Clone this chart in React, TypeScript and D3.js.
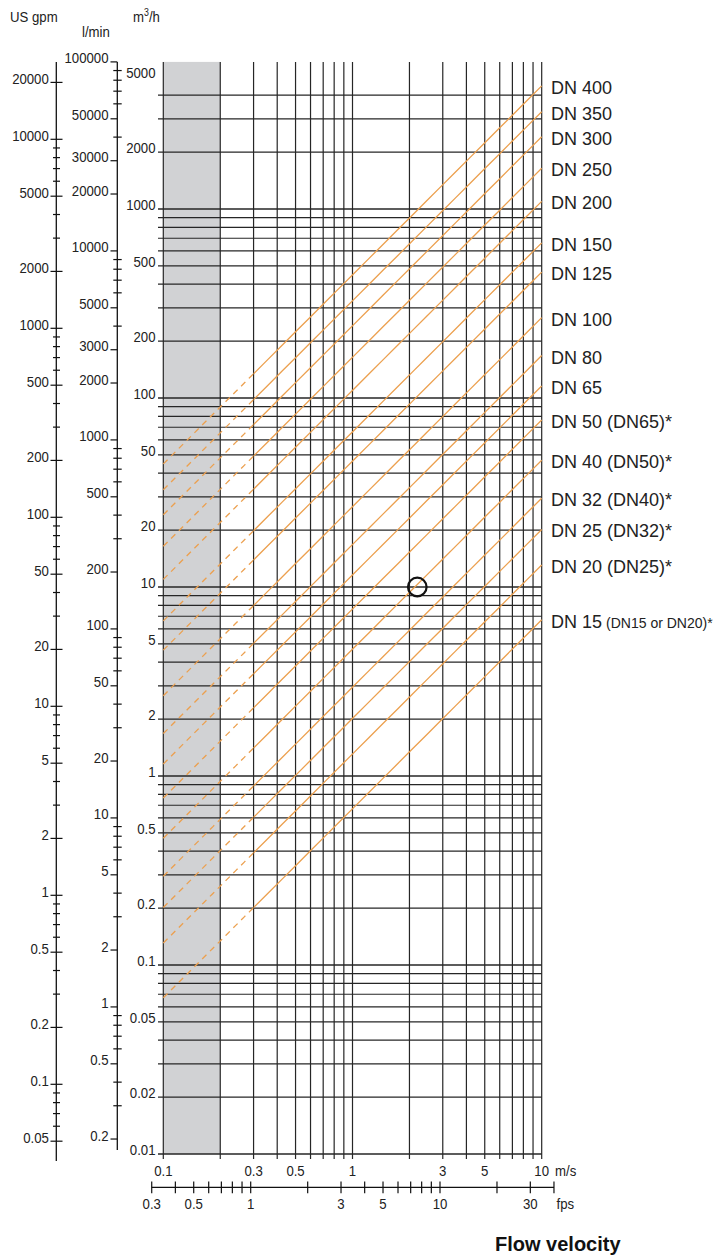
import React from 'react';
import * as d3 from 'd3';

const W = 714;
const H = 1256;

// ---- data ----
const dnNames = ["DN 400", "DN 350", "DN 300", "DN 250", "DN 200", "DN 150", "DN 125", "DN 100", "DN 80", "DN 65", "DN 50", "DN 40", "DN 32", "DN 25", "DN 20", "DN 15"];
const dnNotes = ["", "", "", "", "", "", "", "", "", "", "(DN65)*", "(DN50)*", "(DN40)*", "(DN32)*", "(DN25)*", "(DN15 or DN20)*"];
// effective inner diameters (mm) estimated from where each line meets the 10 m/s edge
const innerDiameterMm = [398, 340, 292, 241, 197, 153, 128, 97, 77, 64, 52, 40.7, 32.3, 26.7, 21.5, 15.4];

const m3hLabels = [5000, 2000, 1000, 500, 200, 100, 50, 20, 10, 5, 2, 1, 0.5, 0.2, 0.1, 0.05, 0.02, 0.01];
const lminLabels = [100000, 50000, 30000, 20000, 10000, 5000, 3000, 2000, 1000, 500, 200, 100, 50, 20, 10, 5, 2, 1, 0.5, 0.2];
const gpmLabels = [20000, 10000, 5000, 2000, 1000, 500, 200, 100, 50, 20, 10, 5, 2, 1, 0.5, 0.2, 0.1, 0.05];
const msLabels = [0.1, 0.3, 0.5, 1, 3, 5, 10];
const fpsLabels = [0.3, 0.5, 1, 3, 5, 10, 30];

const velocityDomain = [0.1, 10];
const flowDomain = [0.01, 6000];
const fpsDomain = [0.3, 40];
const gpmTickRange = [0.05, 20000];
const lminDomain = [0.2, 100000];
const topGridLine = 4000;
const dashedBelow = 0.3;
const slowZone = [0.1, 0.2];
const marker = { v: 2.2, q: 10 };

// ---- scales ----
const xV = d3.scaleLog().domain(velocityDomain).range([163.3, 541.7]);
const yQ = d3.scaleLog().domain(flowDomain).range([1154, 61.9]);
const yL = d3.scaleLog().domain([flowDomain[0] * 1000 / 60, flowDomain[1] * 1000 / 60]).range([1154, 61.9]);
const yG = d3.scaleLog().domain([1, 10]).range([895.3, 706.3]);
const xF = d3.scaleLog().domain([1, 10]).range([250.7, 440]);

const FONT = "'Liberation Sans', Arial, Helvetica, sans-serif";
const ORANGE = "#eca04f";
const GRID = "#262626";

// 1..9 x 10^n ticks inside [lo, hi]
function logTicks(lo: number, hi: number): number[] {
  const out: number[] = [];
  const e0 = Math.floor(Math.log10(lo)) - 1;
  const e1 = Math.ceil(Math.log10(hi)) + 1;
  for (let e = e0; e <= e1; e++) {
    for (let k = 1; k <= 9; k++) {
      const v = +(k * Math.pow(10, e)).toPrecision(8);
      if (v >= lo * (1 - 1e-9) && v <= hi * (1 + 1e-9)) out.push(v);
    }
  }
  return out;
}

const Lbl = ({ x, y, t, anchor = 'end', size = 15 }: any) => (
  <text transform={`translate(${x},${y}) scale(0.88,1)`} textAnchor={anchor} fontSize={size} fill="#222">{t}</text>
);

const flowAt = (v: number, dmm: number) => v * Math.PI / 4 * Math.pow(dmm / 1000, 2) * 3600;

export default function App() {
  const vTicks = logTicks(velocityDomain[0], velocityDomain[1]);
  const qTicks = logTicks(flowDomain[0], topGridLine);
  const lTicks = logTicks(lminDomain[0], lminDomain[1]);
  const gTicks = logTicks(gpmTickRange[0], gpmTickRange[1]);
  const fTicks = logTicks(fpsDomain[0], fpsDomain[1]);

  const near = (a: number, list: number[]) => list.some((b) => Math.abs(a - b) / b < 1e-6);

  const dnLines = innerDiameterMm.map((d, i) => {
    const per = flowAt(1, d);
    const vEnd = Math.min(velocityDomain[1], flowDomain[1] / per);
    const pts = (a: number, b: number) => {
      const n = 20;
      return d3.range(n + 1).map((k) => a * Math.pow(b / a, k / n));
    };
    const gen = d3.line<number>().x((v) => xV(v)).y((v) => yQ(v * per));
    return {
      dashed: gen(pts(velocityDomain[0], dashedBelow)) || '',
      solid: gen(pts(dashedBelow, vEnd)) || '',
      endY: yQ(vEnd * per),
      name: dnNames[i],
      note: dnNotes[i],
    };
  });

  return (
    <svg width={W} height={H} style={{ position: 'absolute', left: 0, top: 0, background: '#fff' }} fontFamily={FONT}>
      {/* slow zone */}
      <rect x={xV(slowZone[0])} y={yQ(flowDomain[1])} width={xV(slowZone[1]) - xV(slowZone[0])} height={yQ(flowDomain[0]) - yQ(flowDomain[1])} fill="#d1d2d4" />

      {/* vertical grid */}
      {vTicks.map((v, i) => (
        <line key={'v' + i} x1={xV(v)} x2={xV(v)} y1={yQ(flowDomain[1])} y2={1159} stroke={GRID} strokeWidth={1.2} />
      ))}
      {/* horizontal grid */}
      {qTicks.map((q, i) => (
        <line key={'h' + i} x1={158} x2={xV(velocityDomain[1])} y1={yQ(q)} y2={yQ(q)} stroke={GRID} strokeWidth={Math.abs(Math.log10(q) - Math.round(Math.log10(q))) < 1e-6 ? 1.6 : 1.2} />
      ))}

      {/* DN lines */}
      {dnLines.map((l, i) => (
        <g key={'dn' + i}>
          <path d={l.dashed} fill="none" stroke={ORANGE} strokeWidth={1.3} strokeDasharray="6,5" />
          <path d={l.solid} fill="none" stroke={ORANGE} strokeWidth={1.3} />
          <text x={551} y={l.endY + 8} fontSize={18} fill="#222">
            {l.name}
            {l.note ? (i === dnLines.length - 1 ? <tspan fontSize={14} dx={4}>{l.note}</tspan> : <tspan dx={5}>{l.note}</tspan>) : null}
          </text>
        </g>
      ))}

      {/* marker */}
      <circle cx={xV(marker.v)} cy={yQ(marker.q)} r={9.3} fill="none" stroke="#111" strokeWidth={2.2} />

      {/* m3/h labels */}
      {m3hLabels.map((q, i) => (
        <Lbl key={'ql' + i} x={155.5} y={yQ(q) + 1.2} t={String(q)} />
      ))}

      {/* l/min axis */}
      <line x1={117.3} x2={117.3} y1={61.9} y2={1150} stroke="#111" strokeWidth={1.3} />
      {lTicks.map((l, i) => near(l, lminLabels) ? (
        <line key={'lt' + i} x1={110.5} x2={117.3} y1={yL(l)} y2={yL(l)} stroke="#111" strokeWidth={1.2} />
      ) : (
        <line key={'lt' + i} x1={113.3} x2={121.7} y1={yL(l)} y2={yL(l)} stroke="#111" strokeWidth={1.2} />
      ))}
      {lminLabels.map((l, i) => (
        <Lbl key={'ll' + i} x={108.5} y={yL(l) + 1.5} t={String(l)} />
      ))}

      {/* US gpm axis */}
      <line x1={56.3} x2={56.3} y1={61.9} y2={1161} stroke="#111" strokeWidth={1.3} />
      {gTicks.map((g, i) => near(g, gpmLabels) ? (
        <line key={'gt' + i} x1={50.5} x2={62.5} y1={yG(g)} y2={yG(g)} stroke="#111" strokeWidth={1.2} />
      ) : (
        <line key={'gt' + i} x1={53} x2={60} y1={yG(g)} y2={yG(g)} stroke="#111" strokeWidth={1.2} />
      ))}
      {gpmLabels.map((g, i) => (
        <Lbl key={'gl' + i} x={48.8} y={yG(g) + 1.5} t={String(g)} />
      ))}

      {/* headers */}
      <Lbl x={10} y={22} t="US gpm" anchor="start" />
      <Lbl x={82} y={37} t="l/min" anchor="start" />
      <text transform="translate(133,22) scale(0.88,1)" fontSize={15} fill="#222">m<tspan fontSize={10} dy={-6}>3</tspan><tspan dy={6}>/h</tspan></text>

      {/* m/s axis labels */}
      {msLabels.map((v, i) => (
        <Lbl key={'ms' + i} x={xV(v)} y={1176} t={String(v)} anchor="middle" />
      ))}
      <Lbl x={555} y={1176} t="m/s" anchor="start" />

      {/* fps axis */}
      <line x1={xF(fpsDomain[0])} x2={xF(fpsDomain[1])} y1={1187.3} y2={1187.3} stroke="#111" strokeWidth={1.3} />
      {fTicks.map((f, i) => (
        <line key={'ft' + i} x1={xF(f)} x2={xF(f)} y1={1181.5} y2={1193.3} stroke="#111" strokeWidth={1.2} />
      ))}
      {fpsLabels.map((f, i) => (
        <Lbl key={'fl' + i} x={xF(f)} y={1208.5} t={String(f)} anchor="middle" />
      ))}
      <Lbl x={556.5} y={1208.5} t="fps" anchor="start" />

      <text x={495} y={1251} fontSize={20} fontWeight="bold" fill="#111">Flow velocity</text>
    </svg>
  );
}
